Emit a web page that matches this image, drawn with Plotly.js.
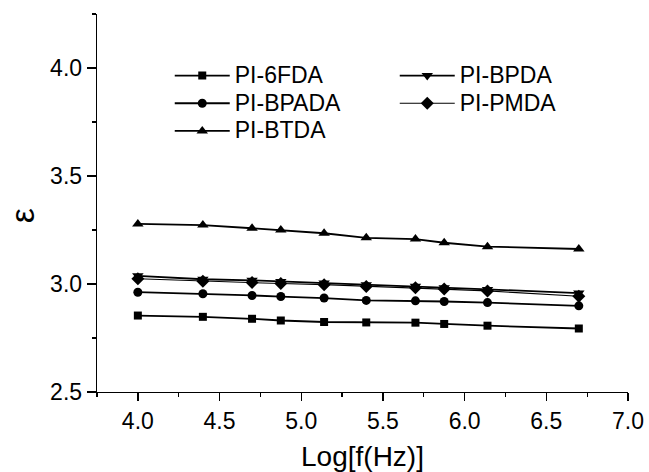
<!DOCTYPE html>
<html>
<head>
<meta charset="utf-8">
<script src="https://cdn.plot.ly/plotly-3.0.1.min.js"></script>
<style>html,body{margin:0;padding:0;background:#fff;}#chart{width:649px;height:472px;}</style>
</head>
<body>
<div id="chart"></div>
<script>
// log10 of frequency (Hz)
const logFreq = [4.0, 4.398, 4.699, 4.875, 5.14, 5.398, 5.699, 5.875, 6.14, 6.699];

// dielectric constant for each polyimide
const pi6FDA  = [2.854, 2.848, 2.839, 2.831, 2.824, 2.822, 2.821, 2.815, 2.807, 2.794];
const piBPDA  = [3.038, 3.022, 3.017, 3.012, 3.005, 2.996, 2.990, 2.983, 2.975, 2.958];
const piBPADA = [2.962, 2.955, 2.947, 2.942, 2.935, 2.924, 2.922, 2.919, 2.914, 2.899];
const piPMDA  = [3.024, 3.013, 3.007, 3.002, 2.997, 2.989, 2.983, 2.977, 2.968, 2.943];
const piBTDA  = [3.278, 3.273, 3.258, 3.250, 3.235, 3.214, 3.208, 3.191, 3.173, 3.162];

const seriesNames = ["PI-6FDA", "PI-BPDA", "PI-BPADA", "PI-PMDA", "PI-BTDA"];
const seriesData  = [pi6FDA, piBPDA, piBPADA, piPMDA, piBTDA];
const symbols     = ["square", "triangle-down", "circle", "diamond", "triangle-up"];
const lineWidths  = [1.8, 1.8, 1.8, 1.1, 1.8];
const markerSizes = [8, 10, 9, 10, 10];

const xTickVals = [4.0, 4.5, 5.0, 5.5, 6.0, 6.5, 7.0];
const yTickVals = [2.5, 3.0, 3.5, 4.0];

const FONT = "Arial, 'Liberation Sans', sans-serif";

const traces = seriesNames.map((name, i) => ({
  type: "scatter",
  mode: "lines+markers",
  name: '<span style="font-size:23px">' + name + '</span>',
  x: logFreq,
  y: seriesData[i],
  line: {color: "#000", width: lineWidths[i]},
  marker: {symbol: symbols[i], size: markerSizes[i], color: "#000"}
}));

const layout = {
  width: 649, height: 472,
  margin: {l: 97, r: 21, t: 14, b: 80},
  paper_bgcolor: "#fff", plot_bgcolor: "#fff",
  font: {family: FONT, color: "#000", size: 22},
  showlegend: true,
  legend: {
    orientation: "h",
    x: 0.137, xanchor: "left",
    y: 0.887, yanchor: "top",
    bgcolor: "rgba(0,0,0,0)",
    font: {family: FONT, size: 19, color: "#000"},
    itemwidth: 55,
    entrywidth: 155,
    traceorder: "normal"
  },
  xaxis: {
    range: [3.75, 7.0],
    tickvals: xTickVals,
    ticktext: xTickVals.map(v => v.toFixed(1)),
    ticks: "outside", ticklen: 8, tickwidth: 1.3, tickcolor: "#000",
    minor: {dtick: 0.25, ticks: "outside", ticklen: 4, tickwidth: 1.2, tickcolor: "#000", showgrid: false},
    showline: true, linecolor: "#000", linewidth: 1.3,
    showgrid: false, zeroline: false,
    tickfont: {family: FONT, size: 23, color: "#000"},
    title: {text: "Log[f(Hz)]", font: {family: FONT, size: 28, color: "#000"}, standoff: 14}
  },
  yaxis: {
    range: [2.5, 4.25],
    tickvals: yTickVals,
    ticktext: yTickVals.map(v => v.toFixed(1)),
    ticks: "outside", ticklen: 9, tickwidth: 1.3, tickcolor: "#000",
    minor: {dtick: 0.25, tick0: 2.5, ticks: "outside", ticklen: 4, tickwidth: 1.2, tickcolor: "#000", showgrid: false},
    showline: true, linecolor: "#000", linewidth: 1.3,
    showgrid: false, zeroline: false,
    tickfont: {family: FONT, size: 23, color: "#000"}
  },
  annotations: [{
    text: "ε", xref: "paper", yref: "paper",
    x: 0, y: 0.465, xanchor: "center", yanchor: "middle",
    xshift: -75, textangle: -90, showarrow: false,
    font: {family: FONT, size: 34, color: "#000"}
  }]
};

Plotly.newPlot("chart", traces, layout, {staticPlot: true, displayModeBar: false});
</script>
</body>
</html>
